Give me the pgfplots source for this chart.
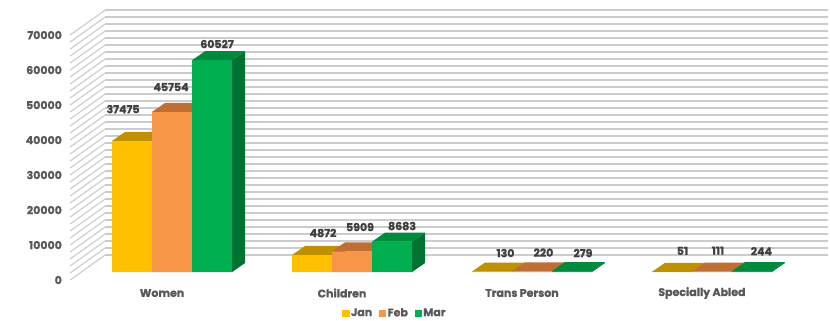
\documentclass[border=0pt]{standalone}
\usepackage{pgfplots}
\pgfplotsset{compat=1.18}
\usepackage{pgfplotstable}
\usepackage{fontspec}
\setmainfont{Poppins}[BoldFeatures={FakeBold=1.2}]
\definecolor{janF}{HTML}{FFC000}
\definecolor{janT}{HTML}{BF9000}
\definecolor{janS}{HTML}{A67C00}
\definecolor{febF}{HTML}{F79646}
\definecolor{febT}{HTML}{BF6F34}
\definecolor{febS}{HTML}{A85E28}
\definecolor{marF}{HTML}{00B050}
\definecolor{marT}{HTML}{008A3E}
\definecolor{marS}{HTML}{007333}
\definecolor{tickgray}{HTML}{595959}
\definecolor{labgray}{HTML}{404040}
\newcommand\lblfont{\bfseries\fontsize{11}{13}\selectfont}
\pgfplotsset{/pgf/number format/1000 sep={}}

% cat = category index, v = value, ldx/ldy = label offset (pt) from bar top
\pgfplotstableread{
cat v ldx ldy
0 37475 -9 31.8
1 4872 11 22
2 130 13.5 18.5
3 51 10.5 21
}\janData
\pgfplotstableread{
cat v ldx ldy
0 45754 -1 24.9
1 5909 8 24.3
2 220 11.5 18.7
3 111 6 21
}\febData
\pgfplotstableread{
cat v ldx ldy
0 60527 5 16.2
1 8683 10 15.6
2 279 11 18
3 244 9.5 20
}\marData

\newcommand\boxfaces[2]{%
  \edef\h{\fpeval{\val*0.0035}}%
  \pgfpathmoveto{\pgfpoint{20pt}{0pt}}%
  \pgfpathlineto{\pgfpoint{33pt}{9pt}}%
  \pgfpathlineto{\pgfpoint{33pt}{\dimexpr 9pt-\h pt\relax}}%
  \pgfpathlineto{\pgfpoint{20pt}{-\h pt}}%
  \pgfpathclose
  \pgfsetfillcolor{#2}\pgfusepath{fill}%
  \pgfpathmoveto{\pgfpoint{-20pt}{0pt}}%
  \pgfpathlineto{\pgfpoint{20pt}{0pt}}%
  \pgfpathlineto{\pgfpoint{33pt}{9pt}}%
  \pgfpathlineto{\pgfpoint{-7pt}{9pt}}%
  \pgfpathclose
  \pgfsetfillcolor{#1}\pgfusepath{fill}%
}
\pgfdeclareplotmark{boxjan}{\boxfaces{janT}{janS}}
\pgfdeclareplotmark{boxfeb}{\boxfaces{febT}{febS}}
\pgfdeclareplotmark{boxmar}{\boxfaces{marT}{marS}}

\pgfplotsset{
  box3d/.style={scatter, only marks, mark=#1,
    scatter/use mapped color={draw=none,fill=none},
    visualization depends on={\thisrow{v}\as\val},
    visualization depends on={\thisrow{ldx}\as\ldx},
    visualization depends on={\thisrow{ldy}\as\ldy},
    nodes near coords, nodes near coords align={anchor=center},
    every node near coord/.append style={font=\lblfont, text=labgray,
      anchor=center, inner sep=0pt, xshift=\ldx pt, yshift=\ldy pt},
    forget plot},
  front/.style={ybar, bar width=40pt, fill=#1, draw=none, forget plot},
}

\begin{document}
\begin{tikzpicture}
% back wall with gridlines
\begin{axis}[at={(105pt,65pt)}, anchor=south west,
  width=723pt, height=245pt, scale only axis,
  xmin=0, xmax=1, ymin=0, ymax=70000,
  axis line style={draw=none}, major tick length=0pt,
  xtick=\empty, ytick distance=2000, yticklabels={}, scaled y ticks=false,
  ymajorgrids, major grid style={gray!40, line width=1.4pt}]
\addplot[draw=none, forget plot] coordinates {(0,0)};
\end{axis}

\begin{axis}[at={(0pt,0pt)}, anchor=south west,
  width=830pt, height=320pt, scale only axis,
  xmin=-0.955556, xmax=3.655556, ymin=-13714.2857, ymax=77714.2857,
  clip=false, clip marker paths=true,
  axis line style={draw=none}, major tick length=0pt,
  xtick={0,1,2,3},
  xticklabels={Women,Children,Trans Person,Specially Abled},
  ytick={0,10000,20000,30000,40000,50000,60000,70000},
  scaled y ticks=false,
  /pgf/number format/assume math mode=true,
  yticklabel style={font=\lblfont, text=tickgray, anchor=east, inner sep=0pt,
    xshift=62pt, yshift=-8pt},
  xticklabel style={font=\lblfont, text=tickgray, anchor=center, inner sep=0pt,
    xshift=-10pt, yshift=27pt},
  legend columns=3,
  legend style={at={(0.476,0.022)}, anchor=center, draw=none, fill=none,
    font=\lblfont, text=tickgray, inner sep=0pt,
    /tikz/every even column/.append style={column sep=5pt}},
]
% left side wall
\pgfplotsinvokeforeach{0,2,...,70}{%
  \draw[gray!40, line width=1.1pt] ([yshift=-8pt]axis cs:-0.566667,#1000) -- ([yshift=17pt]axis cs:-0.372222,#1000);
}

\addplot[front=janF] table[x expr=\thisrow{cat}-0.222222, y=v] {\janData};
\addplot[box3d=boxjan] table[x expr=\thisrow{cat}-0.222222, y=v] {\janData};
\addplot[front=febF] table[x=cat, y=v] {\febData};
\addplot[box3d=boxfeb] table[x=cat, y=v] {\febData};
\addplot[front=marF] table[x expr=\thisrow{cat}+0.222222, y=v] {\marData};
\addplot[box3d=boxmar] table[x expr=\thisrow{cat}+0.222222, y=v] {\marData};

\addlegendimage{only marks, mark=square*, mark size=3.2pt, color=janF}
\addlegendentry{Jan}
\addlegendimage{only marks, mark=square*, mark size=3.2pt, color=febF}
\addlegendentry{Feb}
\addlegendimage{only marks, mark=square*, mark size=3.2pt, color=marF}
\addlegendentry{Mar}
\end{axis}
\end{tikzpicture}
\end{document}
